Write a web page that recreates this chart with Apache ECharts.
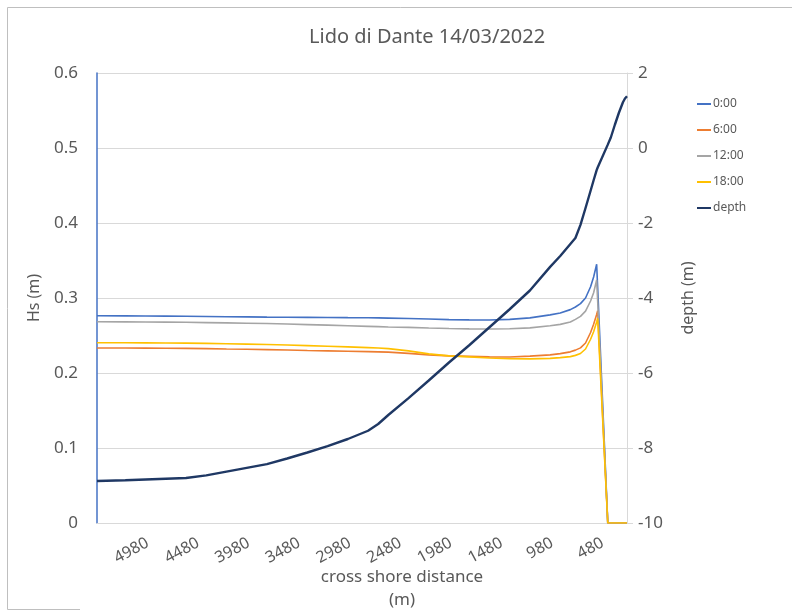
<!DOCTYPE html>
<html>
<head>
<meta charset="utf-8">
<script src="https://cdn.jsdelivr.net/npm/echarts@6/dist/echarts.min.js"></script>
<style>
html,body{margin:0;padding:0;background:#fff;}
#chart{width:792px;height:611px;}
</style>
</head>
<body>
<div id="chart"></div>
<script>
// cross shore distance (m)
var distances = [5480, 5200, 5000, 4800, 4600, 4400, 4200, 4000, 3800, 3600, 3400, 3200, 3000, 2800, 2700, 2600, 2400, 2200, 2000, 1800, 1600, 1400, 1200, 1000, 900, 800, 750, 700, 650, 600, 570, 540, 530, 430, 400, 360, 320, 280, 260, 240];
// Hs (m)
var hs0000 = [0.2764, 0.2762, 0.2760, 0.2758, 0.2756, 0.2753, 0.2750, 0.2748, 0.2745, 0.2743, 0.2742, 0.2740, 0.2738, 0.2737, 0.2735, 0.2732, 0.2727, 0.2720, 0.2712, 0.2708, 0.2707, 0.2715, 0.2735, 0.2775, 0.2800, 0.2845, 0.2880, 0.2925, 0.3000, 0.3150, 0.3280, 0.3450, 0.3140, 0, 0, 0, 0, 0, 0, 0];
var hs0600 = [0.2333, 0.2333, 0.2332, 0.2330, 0.2328, 0.2325, 0.2320, 0.2316, 0.2312, 0.2307, 0.2300, 0.2295, 0.2290, 0.2285, 0.2282, 0.2278, 0.2262, 0.2242, 0.2228, 0.2222, 0.2215, 0.2214, 0.2225, 0.2242, 0.2258, 0.2282, 0.2305, 0.2335, 0.2400, 0.2540, 0.2650, 0.2780, 0.2830, 0, 0, 0, 0, 0, 0, 0];
var hs1200 = [0.2684, 0.2682, 0.2680, 0.2678, 0.2676, 0.2672, 0.2668, 0.2664, 0.2660, 0.2653, 0.2645, 0.2638, 0.2630, 0.2622, 0.2618, 0.2614, 0.2608, 0.2600, 0.2593, 0.2588, 0.2587, 0.2590, 0.2602, 0.2630, 0.2648, 0.2680, 0.2715, 0.2755, 0.2825, 0.2960, 0.3070, 0.3240, 0.2960, 0, 0, 0, 0, 0, 0, 0];
var hs1800 = [0.2404, 0.2404, 0.2402, 0.2400, 0.2398, 0.2395, 0.2390, 0.2385, 0.2380, 0.2373, 0.2365, 0.2357, 0.2348, 0.2338, 0.2333, 0.2325, 0.2295, 0.2255, 0.2228, 0.2215, 0.2200, 0.2190, 0.2188, 0.2195, 0.2205, 0.2218, 0.2235, 0.2260, 0.2320, 0.2450, 0.2550, 0.2680, 0.2730, 0, 0, 0, 0, 0, 0, 0];
// depth (m)
var depth = [-8.88, -8.86, -8.84, -8.82, -8.80, -8.73, -8.63, -8.53, -8.43, -8.28, -8.12, -7.95, -7.76, -7.54, -7.36, -7.12, -6.67, -6.20, -5.72, -5.26, -4.78, -4.30, -3.80, -3.17, -2.88, -2.56, -2.40, -2.05, -1.60, -1.14, -0.86, -0.59, -0.52, 0.09, 0.28, 0.62, 0.94, 1.22, 1.32, 1.38];
var xTickLabels = [4980, 4480, 3980, 3480, 2980, 2480, 1980, 1480, 980, 480];
var hsTicks = [0, 0.1, 0.2, 0.3, 0.4, 0.5, 0.6];
var depthTicks = [-10, -8, -6, -4, -2, 0, 2];

function pairs(vals) {
  return distances.map(function (d, i) { return [d, vals[i]]; });
}

var txt = '#595959';
var fontFam = '"Noto Sans", "Liberation Sans", sans-serif';
var chart = echarts.init(document.getElementById('chart'), null, {renderer: 'canvas'});

var option = {
  backgroundColor: '#ffffff',
  animation: false,
  textStyle: {fontFamily: fontFam, color: txt},
  title: {
    text: 'Lido di Dante 14/03/2022',
    left: 304, top: 22,
    textStyle: {fontFamily: fontFam, fontSize: 20, fontWeight: 'normal', color: txt}
  },
  legend: {
    orient: 'vertical',
    left: 692, top: 93,
    icon: 'rect',
    itemWidth: 14, itemHeight: 2, itemGap: 14,
    textStyle: {fontFamily: fontFam, fontSize: 12, color: txt, padding: [0, 0, 0, -3], lineHeight: 12},
    data: ['0:00', '6:00', '12:00', '18:00', 'depth']
  },
  graphic: [{
    type: 'polyline',
    shape: {points: [[80, 609.5], [7.5, 609.5], [7.5, 7.5], [800, 7.5]]},
    style: {stroke: '#BFBFBF', lineWidth: 1, fill: null},
    silent: true
  }],
  grid: {left: 97, right: 165, top: 73, bottom: 88, containLabel: false, outerBoundsMode: 'none'},
  xAxis: {
    type: 'value',
    inverse: true,
    min: 240, max: 5480,
    name: 'cross shore distance\n(m)',
    nameLocation: 'middle',
    nameGap: 43,
    nameMoveOverlap: false,
    nameTextStyle: {fontFamily: fontFam, fontSize: 17, color: txt, lineHeight: 23, padding: [0, 0, 0, 80]},
    axisLine: {show: true, lineStyle: {color: '#D9D9D9', width: 1}},
    axisTick: {show: false},
    splitLine: {show: false},
    axisLabel: {
      customValues: xTickLabels,
      rotate: 28,
      margin: 19,
      fontFamily: fontFam, fontSize: 16, color: txt,
      formatter: function (v) { return String(v); }
    }
  },
  yAxis: [{
    type: 'value',
    min: 0, max: 0.6, interval: 0.1,
    name: 'Hs (m)',
    nameLocation: 'middle',
    nameGap: 55,
    nameMoveOverlap: false,
    nameTextStyle: {fontFamily: fontFam, fontSize: 16, color: txt},
    axisLine: {show: true, lineStyle: {color: '#4472C4', width: 1.5}},
    axisTick: {show: false},
    splitLine: {show: true, lineStyle: {color: '#D9D9D9', width: 1}},
    axisLabel: {
      margin: 19, fontFamily: fontFam, fontSize: 17, color: txt,
      formatter: function (v) { var r = Math.round(v * 10) / 10; return hsTicks.indexOf(r) >= 0 ? String(r) : ''; }
    }
  }, {
    type: 'value',
    min: -10, max: 2, interval: 2,
    position: 'right',
    name: 'depth (m)',
    nameLocation: 'middle',
    nameGap: 53,
    nameMoveOverlap: false,
    nameTextStyle: {fontFamily: fontFam, fontSize: 16, color: txt},
    axisLine: {show: true, lineStyle: {color: '#D9D9D9', width: 1}},
    axisTick: {show: true, inside: false, length: 6, lineStyle: {color: '#D9D9D9'}},
    splitLine: {show: false},
    axisLabel: {
      margin: 11, fontFamily: fontFam, fontSize: 17, color: txt,
      formatter: function (v) { return depthTicks.indexOf(v) >= 0 ? String(v) : ''; }
    }
  }],
  series: [
    {name: '0:00', type: 'line', yAxisIndex: 0, data: pairs(hs0000), symbol: 'none', smooth: false,
     lineStyle: {color: '#4472C4', width: 1.6}, itemStyle: {color: '#4472C4'}, z: 3},
    {name: '6:00', type: 'line', yAxisIndex: 0, data: pairs(hs0600), symbol: 'none', smooth: false,
     lineStyle: {color: '#ED7D31', width: 1.6}, itemStyle: {color: '#ED7D31'}, z: 3},
    {name: '12:00', type: 'line', yAxisIndex: 0, data: pairs(hs1200), symbol: 'none', smooth: false,
     lineStyle: {color: '#A5A5A5', width: 1.6}, itemStyle: {color: '#A5A5A5'}, z: 3},
    {name: '18:00', type: 'line', yAxisIndex: 0, data: pairs(hs1800), symbol: 'none', smooth: false,
     lineStyle: {color: '#FFC000', width: 1.6}, itemStyle: {color: '#FFC000'}, z: 3},
    {name: 'depth', type: 'line', yAxisIndex: 1, data: pairs(depth), symbol: 'none', smooth: false,
     lineStyle: {color: '#1F3864', width: 2.4}, itemStyle: {color: '#1F3864'}, z: 4}
  ]
};
chart.setOption(option);
</script>
</body>
</html>
